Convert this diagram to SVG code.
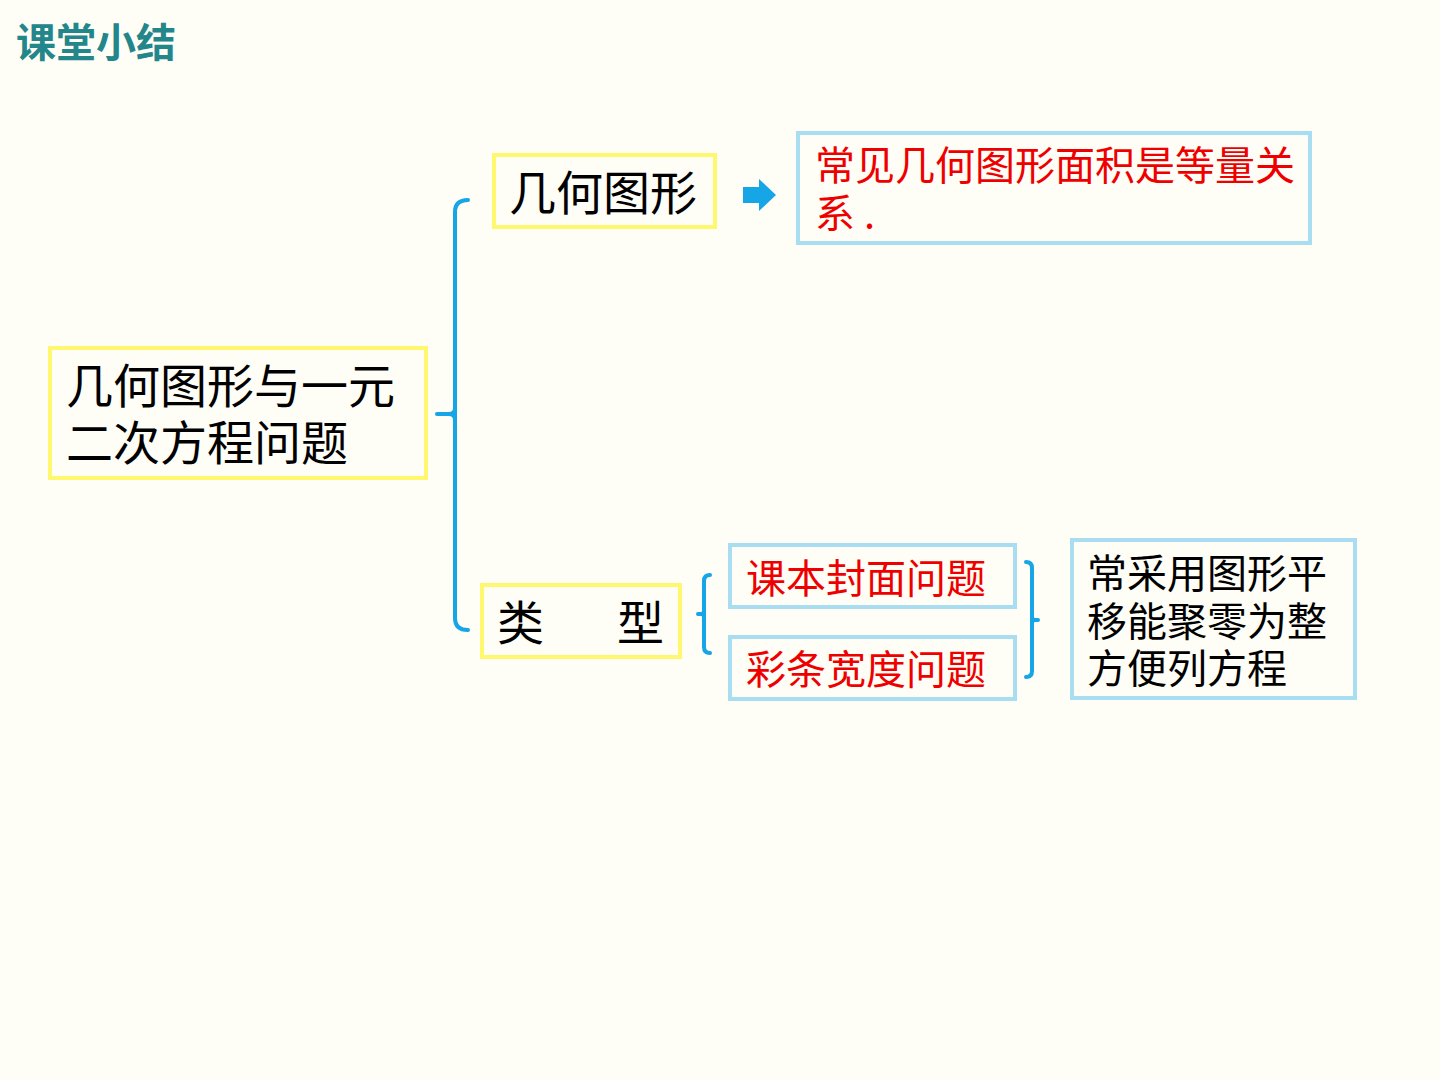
<svg xmlns="http://www.w3.org/2000/svg" width="1440" height="1080" viewBox="0 0 1440 1080">
<style>
.bg{fill:#fefdf6}
.yb{fill:none;stroke:#fff86e;stroke-width:4}
.lb{fill:none;stroke:#a9def2;stroke-width:4}
.br{fill:none;stroke:#16a5e6;stroke-width:4;stroke-linecap:round;stroke-linejoin:round}
.t{font-family:"Noto Sans CJK SC","Liberation Sans",sans-serif}
.k{fill:#000}
.r{fill:#ee0000}
</style>
<rect class="bg" x="0" y="0" width="1440" height="1080"/>
<text class="t" x="16" y="57" font-size="40" font-weight="bold" fill="#23868a">课堂小结</text>

<g id="connectors">
  <path class="br" d="M468,200 Q455,200 455,212 L455,618 Q455,630 468,630"/>
  <path class="br" d="M437,414 L449,414 Q455,414 455,408 M449,414 Q455,414 455,420"/>
  <path class="br" d="M710,575 Q704,575 704,581 L704,647 Q704,653 710,653"/>
  <path class="br" d="M698,614 L701,614 Q704,614 704,611 M701,614 Q704,614 704,617"/>
  <path class="br" d="M1026,562 Q1032,562 1032,568 L1032,671 Q1032,677 1026,677"/>
  <path class="br" d="M1038,620 L1035,620 Q1032,620 1032,617 M1035,620 Q1032,620 1032,623"/>
  <polygon fill="#16a5e6" points="743,187 759,187 759,179 776,195 759,211 759,203 743,203"/>
</g>

<g id="main">
  <rect class="yb" x="50" y="348" width="376" height="130"/>
  <text class="t k" font-size="47" x="66" y="403">几何图形与一元</text>
  <text class="t k" font-size="47" x="66" y="460">二次方程问题</text>
</g>

<g id="geo">
  <rect class="yb" x="494" y="155" width="221" height="72"/>
  <text class="t k" font-size="47" x="509" y="210">几何图形</text>
</g>

<g id="area">
  <rect class="lb" x="798" y="133" width="512" height="110"/>
  <text class="t r" font-size="40" x="815" y="180">常见几何图形面积是等量关</text>
  <text class="t r" font-size="40" x="815" y="228">系 .</text>
</g>

<g id="type">
  <rect class="yb" x="482" y="585" width="198" height="72"/>
  <text class="t k" font-size="47" x="497" y="640">类</text>
  <text class="t k" font-size="47" x="617" y="640">型</text>
</g>

<g id="cover">
  <rect class="lb" x="730" y="545" width="285" height="62"/>
  <text class="t r" font-size="40" x="746" y="593">课本封面问题</text>
</g>

<g id="strip">
  <rect class="lb" x="730" y="637" width="285" height="62"/>
  <text class="t r" font-size="40" x="746" y="684">彩条宽度问题</text>
</g>

<g id="method">
  <rect class="lb" x="1072" y="540" width="283" height="158"/>
  <text class="t k" font-size="40" x="1087" y="588">常采用图形平</text>
  <text class="t k" font-size="40" x="1087" y="636">移能聚零为整</text>
  <text class="t k" font-size="40" x="1087" y="683">方便列方程</text>
</g>
</svg>
